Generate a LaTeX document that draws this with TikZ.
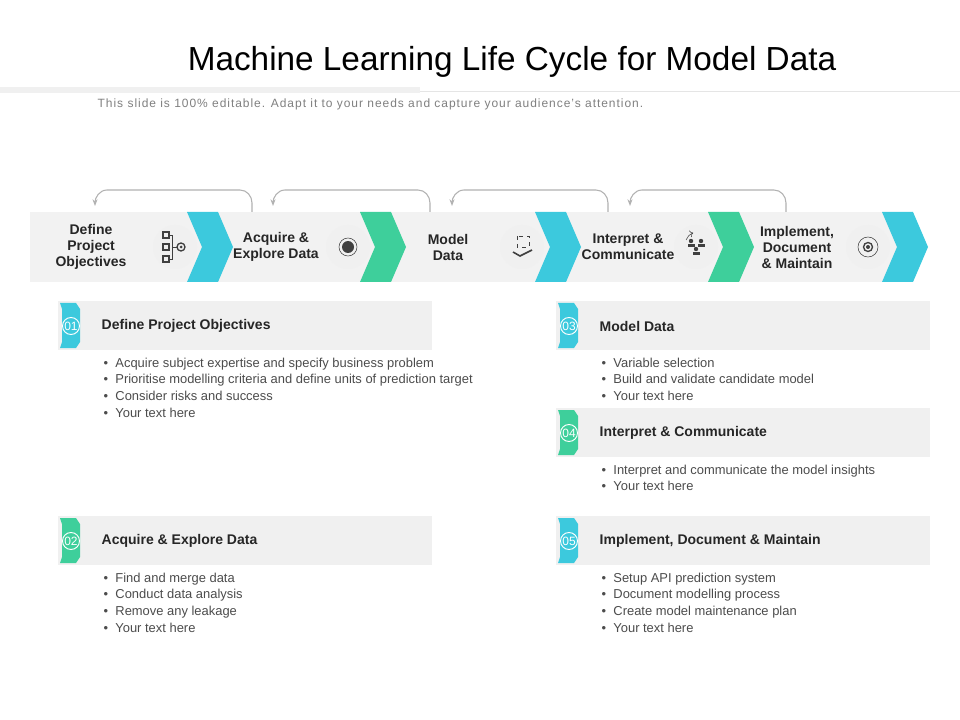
\documentclass[tikz,border=0pt]{standalone}
\usepackage{fontspec}
\setmainfont{Liberation Sans}
\usetikzlibrary{arrows.meta}
\begin{document}
\begin{tikzpicture}[x=0.75pt,y=-0.75pt,
  lbl/.style={font=\fontsize{10.5}{12}\selectfont\bfseries,align=center,text=black!85},
  hd/.style={font=\fontsize{10.5}{12}\selectfont\bfseries,anchor=west,text=black!85},
  bl/.style={font=\fontsize{9.7}{12.5}\selectfont,anchor=north west,align=left,text=black!70},
  arcl/.style={draw=black!30,line width=0.8pt,-{Stealth[length=5pt]}},
  ic/.style={circle,fill=black!6,minimum size=44pt*0.75,inner sep=0pt}]
\definecolor{cyc}{HTML}{3CC9DD}
\definecolor{grc}{HTML}{3ECF9B}
\useasboundingbox (0,0) rectangle (960,720);
\fill[white] (0,0) rectangle (960,720);
% title
\node (title) at (512,62) {\fontsize{25}{28}\selectfont Machine Learning Life Cycle for Model Data};
\fill[black!6] (0,87) rectangle (420,93);
\draw[black!10,line width=0.5pt] (420,91) -- (960,91);
\node[text=black!50,anchor=west] (sub) at (93,104) {\fontsize{9}{10}\selectfont\addfontfeature{LetterSpace=8}This slide is 100\% editable. Adapt it to your needs and capture your audience's attention.};
% band
\fill[black!5] (30,212) rectangle (905,282);
% arcs
\foreach \a/\b in {95/252,273/430,452/608,630/786}{
  \coordinate (s\a) at (\b,212);
  \coordinate (e\a) at (\a,206);
  \draw[arcl] (s\a) -- (\b,203) to[out=90,in=0] (\b-12,190) -- (\a+12,190) to[out=180,in=90] (e\a);
}
% chevrons
\foreach \x/\c in {187/cyc,360/grc,535/cyc,708/grc,882/cyc}{
  \fill[\c] (\x,212) -- (\x+31,212) -- (\x+46,247) -- (\x+31,282) -- (\x,282) -- (\x+15,247) -- cycle;
}
% labels
\node[lbl] (l1) at (91,247) {Define\\Project\\Objectives};
\node[lbl] (l2) at (276,247) {Acquire \&\\Explore Data};
\node[lbl] (l3) at (448,247) {Model\\Data};
\node[lbl] (l4) at (628,247) {Interpret \&\\Communicate};
\node[lbl] (l5) at (797,247) {Implement,\\Document\\\& Maintain};
% icons
\foreach \n/\x in {1/175,2/348,3/522,4/696,5/868}{\node[ic] (i\n) at (\x,247) {};}
\begin{scope}[black!75]
 \foreach \yy in {235,247,259}{\draw[line width=0.8pt] (163,\yy-3) rectangle (169,\yy+3);}
 \draw (169,235)--(172,235)--(172,259)--(169,259) (172,247)--(177,247);
 \draw[line width=1pt] (181,247) circle (4); \fill (181,247) circle (1.5);
 \fill (348,247) circle (6); \draw (348,247) circle (9);
 \draw[line width=1.2pt] (513,252) -- (520,256) -- (532,250);
 \draw[dashed] (517,236) rectangle (529,247);
 \foreach \dx/\dy in {-5/-4,5/-4,0/4}{\fill (696+\dx,247+\dy-2) circle (2.2); \fill (696+\dx-3.5,247+\dy+1) rectangle (696+\dx+3.5,247+\dy+4);}
 \draw[->] (686,240) arc (200:250:12);
 \draw[line width=1pt] (868,247) circle (4.5); \fill (868,247) circle (2);
 \draw (868,247) circle (10);
\end{scope}
% sections
\newcommand{\sect}[7]{% name x y color num title
  \fill[black!6] (#2,#3) rectangle (#2+374,#3+49);
  \fill[#4] (#2+2,#3+2) -- (#2+18,#3+2) -- (#2+22,#3+8) -- (#2+22,#3+41) -- (#2+18,#3+47) -- (#2+2,#3+47) -- (#2+4,#3+41) -- (#2+4,#3+8) -- cycle;
  \draw[white,line width=0.7pt] (#2+13,#3+25) circle (8.5);
  \node[text=white,font=\fontsize{9}{10}\selectfont] (n#1) at (#2+13,#3+25) {#5};
  \node[hd] (h#1) at (#2+39,#3+25) {#6};
  \node[bl] (b#1) at (#2+41,#3+52) {#7};
}
\sect{a}{58}{301}{cyc}{01}{Define Project Objectives}{•\ \ Acquire subject expertise and specify business problem\\•\ \ Prioritise modelling criteria and define units of prediction target\\•\ \ Consider risks and success\\•\ \ Your text here}
\sect{b}{58}{516}{grc}{02}{Acquire \& Explore Data}{•\ \ Find and merge data\\•\ \ Conduct data analysis\\•\ \ Remove any leakage\\•\ \ Your text here}
\sect{c}{556}{301}{cyc}{03}{Model Data}{•\ \ Variable selection\\•\ \ Build and validate candidate model\\•\ \ Your text here}
\sect{d}{556}{408}{grc}{04}{Interpret \& Communicate}{•\ \ Interpret and communicate the model insights\\•\ \ Your text here}
\sect{e}{556}{516}{cyc}{05}{Implement, Document \& Maintain}{•\ \ Setup API prediction system\\•\ \ Document modelling process\\•\ \ Create model maintenance plan\\•\ \ Your text here}
\end{tikzpicture}
\end{document}
